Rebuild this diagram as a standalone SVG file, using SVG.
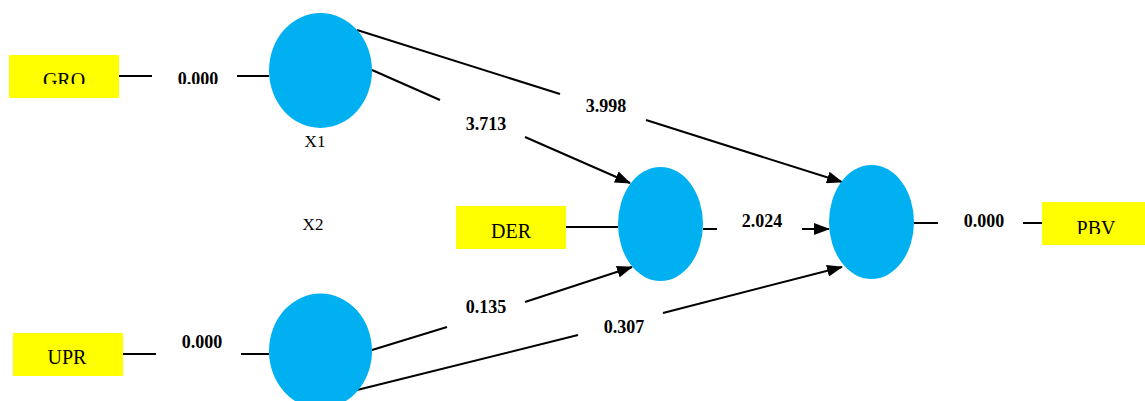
<svg xmlns="http://www.w3.org/2000/svg" width="1145" height="401" viewBox="0 0 1145 401">
  <style>
    .box { fill: #ffff00; }
    .lv { fill: #00b0f0; }
    .ln { stroke: #000; stroke-width: 2; fill: none; }
    .ind { font-family: "Liberation Serif", "Times New Roman", serif; font-size: 20px; fill: #000; text-anchor: middle; }
    .lbl { font-family: "Liberation Serif", "Times New Roman", serif; font-size: 18px; font-weight: bold; fill: #000; text-anchor: middle; }
    .nm { font-family: "Liberation Serif", "Times New Roman", serif; font-size: 17px; fill: #000; text-anchor: middle; }
  </style>
  <defs>
    <marker id="arr" markerUnits="userSpaceOnUse" markerWidth="16" markerHeight="12" refX="15" refY="6" orient="auto">
      <path d="M0,0 L16,6 L0,12 z" fill="#000"/>
    </marker>
    <clipPath id="clipTop"><rect x="0" y="0" width="1145" height="84"/></clipPath>
    <clipPath id="clipPBV"><rect x="0" y="0" width="1145" height="234"/></clipPath>
  </defs>

  <g id="connectors">
    <line class="ln" x1="119" y1="76" x2="152" y2="76"/>
    <line class="ln" x1="237" y1="76" x2="269" y2="76"/>
    <line class="ln" x1="123" y1="354" x2="156" y2="354"/>
    <line class="ln" x1="241" y1="354" x2="269" y2="354"/>
    <line class="ln" x1="566" y1="227" x2="618" y2="227"/>
    <line class="ln" x1="914" y1="223" x2="938" y2="223"/>
    <line class="ln" x1="1023" y1="223" x2="1042" y2="223"/>
    <line class="ln" x1="703" y1="229" x2="717" y2="229"/>
    <line class="ln" x1="802" y1="229" x2="829" y2="229" marker-end="url(#arr)"/>
    <line class="ln" x1="357" y1="30" x2="560" y2="94"/>
    <line class="ln" x1="646" y1="120" x2="842" y2="182" marker-end="url(#arr)"/>
    <line class="ln" x1="372" y1="70" x2="440" y2="100"/>
    <line class="ln" x1="525" y1="137" x2="630" y2="183" marker-end="url(#arr)"/>
    <line class="ln" x1="372" y1="350" x2="447" y2="327"/>
    <line class="ln" x1="525" y1="302" x2="632" y2="267" marker-end="url(#arr)"/>
    <line class="ln" x1="357" y1="390" x2="578" y2="335"/>
    <line class="ln" x1="663" y1="313" x2="842" y2="267" marker-end="url(#arr)"/>
    <text class="lbl" x="198" y="85" clip-path="url(#clipTop)">0.000</text>
    <text class="lbl" x="202" y="348">0.000</text>
    <text class="lbl" x="606" y="112">3.998</text>
    <text class="lbl" x="486" y="130">3.713</text>
    <text class="lbl" x="486" y="313">0.135</text>
    <text class="lbl" x="624" y="333">0.307</text>
    <text class="lbl" x="762" y="227">2.024</text>
    <text class="lbl" x="984" y="227">0.000</text>
  </g>

  <g id="GRO">
    <rect class="box" x="9" y="55" width="110" height="43"/>
    <text class="ind" x="64" y="87" clip-path="url(#clipTop)">GRO</text>
  </g>
  <g id="UPR">
    <rect class="box" x="13" y="333" width="110" height="43"/>
    <text class="ind" x="67" y="364">UPR</text>
  </g>
  <g id="DER">
    <rect class="box" x="456" y="206" width="110" height="43"/>
    <text class="ind" x="511" y="238">DER</text>
  </g>
  <g id="PBV">
    <rect class="box" x="1042" y="202" width="110" height="43"/>
    <text class="ind" x="1096" y="235" clip-path="url(#clipPBV)">PBV</text>
  </g>
  <g id="X1">
    <ellipse class="lv" cx="320.5" cy="70.5" rx="51.5" ry="57.5"/>
    <text class="nm" x="315" y="147">X1</text>
  </g>
  <g id="X2">
    <ellipse class="lv" cx="320.5" cy="351" rx="51.5" ry="57.5"/>
    <text class="nm" x="313" y="230">X2</text>
  </g>
  <g id="Y1">
    <ellipse class="lv" cx="660.5" cy="224" rx="42.5" ry="57"/>
  </g>
  <g id="Y2">
    <ellipse class="lv" cx="871.5" cy="222" rx="42.5" ry="57"/>
  </g>
</svg>
